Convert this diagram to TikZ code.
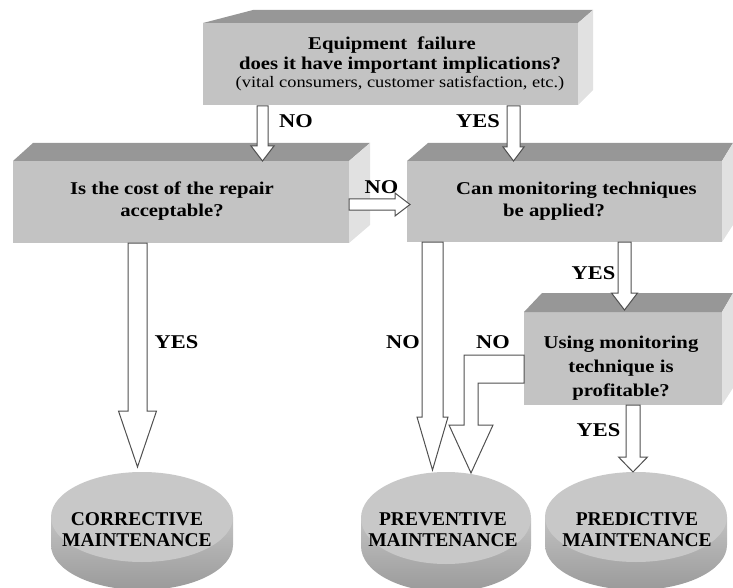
\documentclass[tikz,border=0pt]{standalone}
\usepackage{fontspec}
\setmainfont{Liberation Serif}
\usetikzlibrary{calc}
\definecolor{boxfront}{HTML}{C3C3C3}
\definecolor{boxtop}{HTML}{979797}
\definecolor{boxside}{HTML}{E1E1E1}
\definecolor{disctop}{HTML}{C8C8C8}
\definecolor{discside1}{HTML}{C2C2C2}
\definecolor{discside2}{HTML}{9A9A9A}
\definecolor{arrowline}{HTML}{505050}
\newcommand{\stx}[1]{\scalebox{1.15}[1]{#1}}
\newcommand{\barrowdown}[5]{%
  \draw[blockarrow] let \p1=(#1), \p2=(#2) in
  (\x1-#3pt,\y1) -- (\x1+#3pt,\y1) -- (\x1+#3pt,\y2+#5pt) -- (\x1+#4pt,\y2+#5pt)
  -- (\x1,\y2) -- (\x1-#4pt,\y2+#5pt) -- (\x1-#3pt,\y2+#5pt) -- cycle;}
\newcommand{\barrowright}[5]{%
  \draw[blockarrow] let \p1=(#1), \p2=(#2) in
  (\x1,\y1+#3pt) -- (\x2-#5pt,\y1+#3pt) -- (\x2-#5pt,\y1+#4pt) -- (\x2,\y1)
  -- (\x2-#5pt,\y1-#4pt) -- (\x2-#5pt,\y1-#3pt) -- (\x1,\y1-#3pt) -- cycle;}
\newcommand{\discshape}[4]{% centre, x radius, y radius, thickness
  \shade[discside] let \p1=(#1) in
    (\x1-#2pt,\y1) -- (\x1-#2pt,\y1-#4pt)
    arc[start angle=180, end angle=360, x radius=#2pt, y radius=#3pt]
    -- (\x1+#2pt,\y1) -- cycle;
  \fill[disctopface] (#1) ellipse [x radius=#2pt, y radius=#3pt];}
\tikzset{
  front/.style={rectangle, fill=boxfront, draw=none, inner sep=0pt, outer sep=0pt, anchor=north west},
  topface/.style={fill=boxtop},
  sideface/.style={fill=boxside},
  blockarrow/.style={fill=white, draw=arrowline, line width=1pt, line join=miter},
  lbl/.style={font=\fontsize{19.5}{20}\selectfont\bfseries, inner sep=0pt, text=black},
  boxtxt/.style={font=\fontsize{18}{22}\selectfont\bfseries, align=center, inner sep=0pt, text=black},
  disctopface/.style={fill=disctop},
  discside/.style={top color=discside1, bottom color=discside2},
  disctxt/.style={font=\fontsize{19.5}{21}\selectfont\bfseries, align=center, inner sep=0pt, text=black}
}
\begin{document}
\begin{tikzpicture}[x=1pt,y=-1pt]
\useasboundingbox (0,0) rectangle (733,588);

% ---- top box
\node[front, minimum width=375pt, minimum height=82pt] (top) at (203,23) {};
\fill[topface] (top.north west) -- ++(50,-13) -- ($(top.north east)+(15,-13)$) -- (top.north east) -- cycle;
\fill[sideface] (top.north east) -- ++(15,-13) -- ++(0,80) -- (top.south east) -- cycle;
\node[boxtxt, font=\fontsize{18}{20}\selectfont\bfseries] (toptxt) at (400,63.8)
  {\stx{Equipment\ \ failure}\hspace*{16pt}\\
   \stx{does it have important implications?}\\[-1.5pt]
   {\mdseries\fontsize{16}{19}\selectfont\stx{(vital consumers, customer satisfaction, etc.)}}};

% ---- left box
\node[front, minimum width=336pt, minimum height=82pt] (left) at (13,161) {};
\fill[topface] (left.north west) -- ++(20,-18) -- ($(left.north east)+(21,-18)$) -- (left.north east) -- cycle;
\fill[sideface] (left.north east) -- ++(21,-18) -- ++(0,82) -- (left.south east) -- cycle;
\node[boxtxt] (lefttxt) at (172,200.8) {\stx{Is the cost of the repair}\\ \stx{acceptable?}};

% ---- middle box
\node[front, minimum width=315pt, minimum height=81pt] (mon) at (407,161) {};
\fill[topface] (mon.north west) -- ++(21,-18) -- ($(mon.north east)+(11,-18)$) -- (mon.north east) -- cycle;
\fill[sideface] (mon.north east) -- ++(11,-18) -- ++(0,82) -- (mon.south east) -- cycle;
\node[boxtxt, align=left, anchor=west] (montxt) at (456,200.8) {\stx{Can monitoring techniques}\\ \hspace*{47pt}\stx{be applied?}};

% ---- third box
\node[front, minimum width=198pt, minimum height=93pt] (prof) at (524,312) {};
\fill[topface] (prof.north west) -- ++(18,-19) -- ($(prof.north east)+(11,-19)$) -- (prof.north east) -- cycle;
\fill[sideface] (prof.north east) -- ++(11,-19) -- ++(0,95) -- (prof.south east) -- cycle;
\node[boxtxt, font=\fontsize{18}{24}\selectfont\bfseries] (proftxt) at (621,367.8) {\stx{Using monitoring}\\ \stx{technique is}\\ \stx{profitable?}};

% ---- discs
\coordinate (corr) at (142,517);
\coordinate (prev) at (446,518);
\coordinate (pred) at (636,517);
\discshape{corr}{91}{45}{28}
\node[disctxt] (corrtxt) at (137,529.5) {CORRECTIVE\\MAINTENANCE};
\discshape{prev}{85}{46}{28}
\node[disctxt] (prevtxt) at (443,529.5) {PREVENTIVE\\MAINTENANCE};
\discshape{pred}{91}{45}{28}
\node[disctxt] (predtxt) at (637,529.5) {PREDICTIVE\\MAINTENANCE};

\coordinate (corrtop) at ($(corr)+(0,-45)$);
\coordinate (prevtop) at ($(prev)+(0,-46)$);
\coordinate (predtop) at ($(pred)+(0,-45)$);

% ---- arrows
\coordinate (a1s) at ($(top.south west)+(59.5,1)$);
\coordinate (a1e) at (a1s |- left.north);
\barrowdown{a1s}{a1e}{5.5}{11.5}{15}

\coordinate (a2s) at ($(top.south west)+(310.5,1)$);
\coordinate (a2e) at (a2s |- mon.north);
\barrowdown{a2s}{a2e}{6.5}{10.5}{14}

\coordinate (a3s) at ($(left.east)+(0,2.5)$);
\coordinate (a3e) at ($(a3s -| mon.west)+(3,0)$);
\barrowright{a3s}{a3e}{5.5}{11.5}{15}

\coordinate (a4s) at ($(left.south west)+(124.5,0)$);
\coordinate (a4e) at ($(a4s |- corrtop)+(0,-5)$);
\barrowdown{a4s}{a4e}{9.5}{19}{56}

\coordinate (a5s) at ($(mon.south west)+(25.5,0)$);
\coordinate (a5e) at ($(a5s |- prevtop)+(0,-2)$);
\barrowdown{a5s}{a5e}{10.5}{15.5}{53}

\coordinate (a6e) at ($(prevtop)+(25,1)$);
\draw[blockarrow] ($(prof.north west)+(0,43)$) -- ++(-60,0) -- ++(0,70) -- ++(-15,0)
  -- (a6e) -- ++(22,-48) -- ++(-15,0) -- ++(0,-42) -- ($(prof.north west)+(0,71)$) -- cycle;

\coordinate (a7s) at ($(prof.south west)+(109,0)$);
\coordinate (a7e) at (a7s |- predtop);
\barrowdown{a7s}{a7e}{7}{14.5}{15}

\coordinate (a8s) at ($(mon.south west)+(217.5,0)$);
\coordinate (a8e) at ($(a8s |- prof.north)+(0,-2)$);
\barrowdown{a8s}{a8e}{6.5}{13}{17}

% ---- labels
\node[lbl] (l1) at (296,121) {\stx{NO}};
\node[lbl] (l2) at (478,121) {\stx{YES}};
\node[lbl] (l3) at (381.5,187) {\stx{NO}};
\node[lbl] (l4) at (176.5,342) {\stx{YES}};
\node[lbl] (l5) at (403,342) {\stx{NO}};
\node[lbl] (l6) at (493,342) {\stx{NO}};
\node[lbl] (l7) at (593.5,273) {\stx{YES}};
\node[lbl] (l8) at (598.5,430) {\stx{YES}};
\end{tikzpicture}
\end{document}
